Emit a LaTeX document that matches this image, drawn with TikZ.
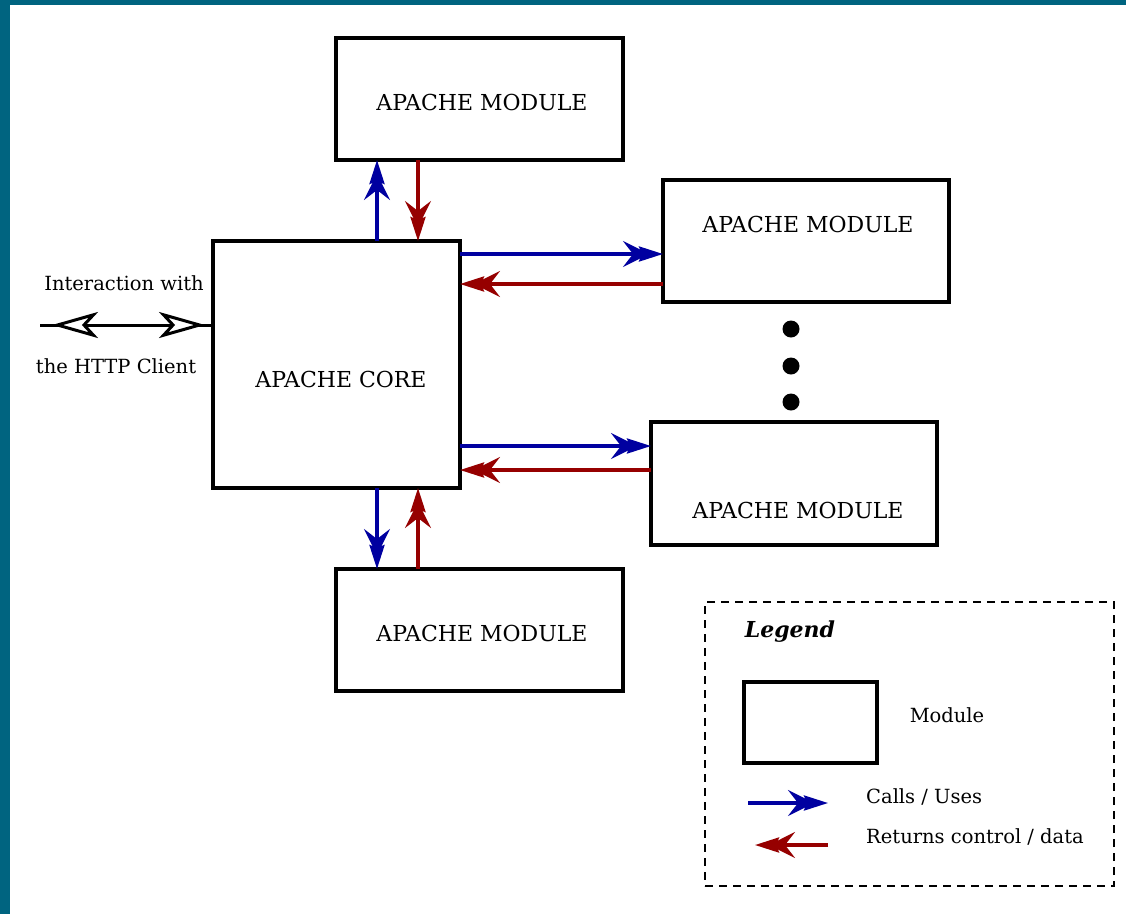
\documentclass[tikz,border=0pt]{standalone}
\usepackage{fontspec}
\setmainfont{DejaVu Serif}
\usetikzlibrary{arrows.meta}
\definecolor{frameteal}{RGB}{0,100,128}
\definecolor{callblue}{RGB}{0,0,160}
\definecolor{retred}{RGB}{150,0,0}
\tikzset{
  modbox/.style={draw=black, line width=3.5pt, minimum width=#1, inner sep=0pt, outer sep=0pt},
  lbl/.style={font=\fontsize{22}{26}\selectfont, inner sep=0pt},
  smalllbl/.style={font=\fontsize{19.5}{23}\selectfont, inner sep=0pt},
  head/.style={-{Stealth[length=26pt,width=26pt,inset=10pt,sep=-10pt] Stealth[length=24pt,width=15pt,inset=3pt]}},
  call/.style={draw=callblue, line width=3.2pt, head},
  ret/.style={draw=retred, line width=3.2pt, head},
  openhead/.tip={Stealth[open,fill=white,length=46pt,width=26pt,inset=12pt]},
  dotnode/.style={circle, fill=black, minimum size=17pt, inner sep=0pt},
}
\begin{document}
\begin{tikzpicture}[x=1pt,y=-1pt]
\useasboundingbox (0,0) rectangle (1126,914);
\fill[frameteal] (0,0) rectangle (1126,914);
\fill[white] (10,5) rectangle (1126,914);

% boxes
\node[modbox=247pt, minimum height=247pt] (core) at (336.5,364.5) {};
\node[modbox=287pt, minimum height=122pt] (m1) at (479.5,99) {};
\node[modbox=286pt, minimum height=122pt] (m2) at (806,241) {};
\node[modbox=286pt, minimum height=123pt] (m3) at (794,483.5) {};
\node[modbox=287pt, minimum height=122pt] (m4) at (479.5,630) {};

% labels
\node[lbl] (m1t) at (482,102) {APACHE MODULE};
\node[lbl] (m2t) at (808,224) {APACHE MODULE};
\node[lbl] (m3t) at (798,510) {APACHE MODULE};
\node[lbl] (m4t) at (482,633) {APACHE MODULE};
\node[lbl] (coret) at (341,379) {APACHE CORE};
\node[smalllbl] (cl1) at (124,283) {Interaction with};
\node[smalllbl] (cl2) at (116,366) {the HTTP Client};

% dots
\node[dotnode] (d1) at (791,329) {};
\node[dotnode] (d2) at (791,366) {};
\node[dotnode] (d3) at (791,402) {};

% core <-> top module
\draw[call] ([xshift=164pt]core.north west) -- ([xshift=164pt]core.north west |- m1.south);
\draw[ret] ([xshift=205pt]core.north west |- m1.south) -- ([xshift=205pt]core.north west);
% core <-> right module 1
\draw[call] ([yshift=-13pt]core.north east) -- ([yshift=-13pt]core.north east -| m2.west);
\draw[ret] ([yshift=-43pt]core.north east -| m2.west) -- ([yshift=-43pt]core.north east);
% core <-> right module 2
\draw[call] ([yshift=-24pt]m3.north west -| core.east) -- ([yshift=-24pt]m3.north west);
\draw[ret] ([yshift=-48pt]m3.north west) -- ([yshift=-48pt]m3.north west -| core.east);
% core <-> bottom module
\draw[call] ([xshift=164pt]core.south west) -- ([xshift=164pt]core.south west |- m4.north);
\draw[ret] ([xshift=205pt]core.south west |- m4.north) -- ([xshift=205pt]core.south west);

% client interaction
\coordinate (clientend) at (40,325);
\draw[black, line width=3pt] (clientend) -- (clientend -| core.west);
\draw[black, line width=3pt, openhead-openhead, shorten <=12pt, shorten >=8pt] (clientend) -- (clientend -| core.west);

% legend
\node[draw=black, line width=2pt, dash pattern=on 8pt off 6pt, minimum width=409pt, minimum height=284pt, inner sep=0pt] (legend) at (909.5,744) {};
\node[font=\fontsize{22}{26}\selectfont\bfseries\itshape, inner sep=0pt] (legt) at (790,632) {Legend};
\node[modbox=133pt, minimum height=81pt] (legbox) at (810.5,722.5) {};
\node[smalllbl] (legmod) at (947,715) {Module};
\node[smalllbl, anchor=west] (legcall) at (866,797) {Calls / Uses};
\node[smalllbl, anchor=west] (legret) at (866,837) {Returns control / data};
\coordinate (lc1) at (748,803);
\coordinate (lc2) at (828,803);
\coordinate (lr1) at (828,845);
\coordinate (lr2) at (755,845);
\draw[call] (lc1) -- (lc2);
\draw[ret] (lr1) -- (lr2);
\end{tikzpicture}
\end{document}
